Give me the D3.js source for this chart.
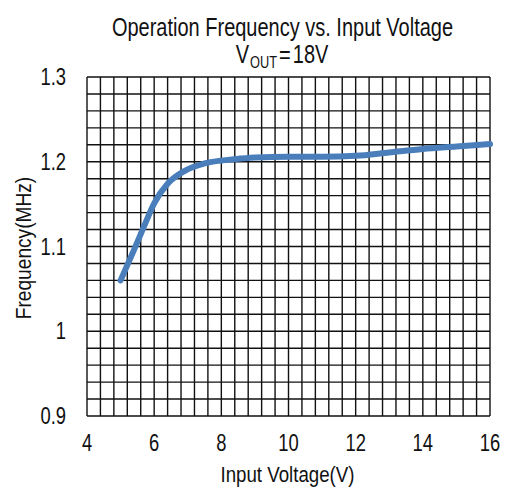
<!DOCTYPE html>
<html><head><meta charset="utf-8">
<script src="https://cdn.jsdelivr.net/npm/d3@7"></script>
<style>
body{margin:0;background:#fff;}
svg text{font-family:"Liberation Sans",Arial,sans-serif;fill:#111;}
</style></head>
<body><svg id="c" width="515" height="490"></svg>
<script>
const voltage = [5, 5.4, 5.7, 6, 6.4, 6.9, 7.5, 8.4, 9, 10, 11, 12, 13, 14, 15, 16];
const frequency = [1.06, 1.096, 1.124, 1.151, 1.174, 1.189, 1.198, 1.203, 1.205, 1.206, 1.206, 1.207, 1.211, 1.215, 1.218, 1.221];
const xTicks = [4, 6, 8, 10, 12, 14, 16];
const yTicks = [0.9, 1.0, 1.1, 1.2, 1.3];
const yTickLabels = ["0.9", "1", "1.1", "1.2", "1.3"];

const svg = d3.select("#c");
const L = 87, R = 490, T = 77, B = 416;
const x = d3.scaleLinear().domain([4, 16]).range([L, R]);
const y = d3.scaleLinear().domain([0.9, 1.3]).range([B, T]);
const NARROW = 0.8;

function label(parent, str, px, py, size, anchor, sx, rotate) {
  const el = parent.append("text")
    .attr("text-anchor", anchor || "start")
    .style("font-size", size + "px").text(str);
  let tr = `translate(${px},${py})`;
  if (rotate) tr += ` rotate(${rotate})`;
  tr += ` scale(${sx || NARROW},1)`;
  el.attr("transform", tr);
  return el;
}

const g = svg.append("g");
const xg = d3.range(0, 31).map(i => 4 + i * 0.4);
const yg = d3.range(0, 21).map(i => 0.9 + i * 0.02);
g.selectAll("line.v").data(xg).join("line")
  .attr("x1", d => x(d)).attr("x2", d => x(d)).attr("y1", T).attr("y2", B)
  .attr("stroke", "#111").attr("stroke-width", 1.4);
g.selectAll("line.h").data(yg).join("line")
  .attr("y1", d => y(d)).attr("y2", d => y(d)).attr("x1", L).attr("x2", R)
  .attr("stroke", "#111").attr("stroke-width", 1.4);

const xa = svg.append("g");
xTicks.forEach(v => label(xa, d3.format("d")(v), x(v), B + 35, 23, "middle"));
const ya = svg.append("g");
yTicks.forEach((v, i) => label(ya, yTickLabels[i], L - 21, y(v) + 8, 23, "end"));

const pts = voltage.map((v, i) => [v, frequency[i]]);
svg.append("path").datum(pts)
  .attr("fill", "none").attr("stroke", "#4a7ebb").attr("stroke-width", 6).attr("stroke-linecap", "round")
  .attr("d", d3.line().x(d => x(d[0])).y(d => y(d[1])).curve(d3.curveMonotoneX));

label(svg, "Operation Frequency vs. Input Voltage", 282.5, 36, 25, "middle");

const parts = [
  {t: "V", size: 25, dy: 0, gap: 0},
  {t: "OUT", size: 16, dy: 5, gap: 1},
  {t: "=", size: 25, dy: 0, gap: 2},
  {t: "18V", size: 25, dy: 0, gap: 2}
];
const t2 = svg.append("g");
let cx = 0;
parts.forEach(p => {
  cx += p.gap;
  const el = label(t2, p.t, cx, 63 + p.dy, p.size, "start");
  cx += el.node().getBBox().width * NARROW;
});
t2.attr("transform", `translate(${282 - cx / 2},0)`);

label(svg, "Input Voltage(V)", 287.5, 482, 22, "middle", 0.85);
label(svg, "Frequency(MHz)", 31, 248, 22, "middle", 0.87, -90);
</script></body></html>
